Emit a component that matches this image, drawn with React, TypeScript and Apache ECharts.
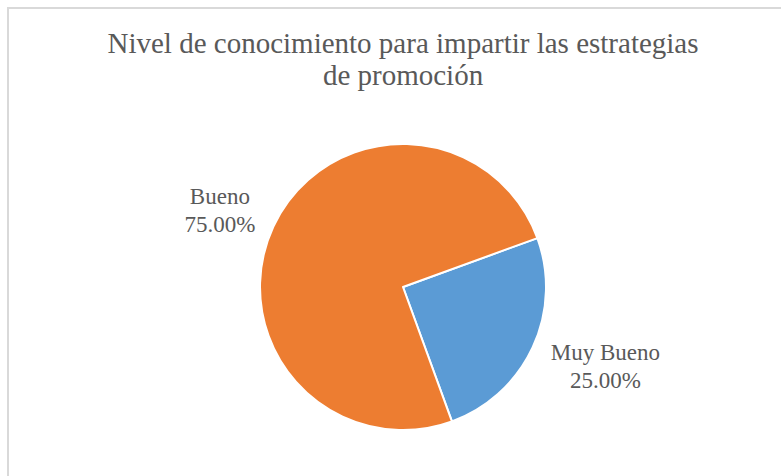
import React, { useEffect, useRef } from 'react';
import * as echarts from 'echarts';

// ---- data ----
const titleText = 'Nivel de conocimiento para impartir las estrategias\nde promoción';
const categories = ['Muy Bueno', 'Bueno'];
const values = [25, 75];

// ---- styling ----
const sliceColors = ['#5B9BD5', '#ED7D31'];
const labelLineLen = [45, 37];
const labelLineLen2 = [27, 15];
const FONT = 'Liberation Serif';
const TEXT_COLOR = '#595959';

export default function App() {
  const ref = useRef<HTMLDivElement | null>(null);

  useEffect(() => {
    if (!ref.current) return;
    const chart = echarts.init(ref.current, undefined, { renderer: 'svg' });
    const data = categories.map((name, i) => ({
      name,
      value: values[i],
      itemStyle: { color: sliceColors[i] },
      labelLine: { show: false, length: labelLineLen[i], length2: labelLineLen2[i] },
    }));
    chart.setOption({
      animation: false,
      backgroundColor: '#ffffff',
      graphic: [
        {
          type: 'rect',
          shape: { x: 8, y: 8, width: 800, height: 500 },
          style: { fill: 'none', stroke: '#d9d9d9', lineWidth: 2 },
          silent: true,
        },
        {
          type: 'text',
          x: 403,
          y: 27,
          silent: true,
          style: {
            text: titleText,
            align: 'center',
            verticalAlign: 'top',
            fontFamily: FONT,
            fontSize: 29,
            fontWeight: 'normal',
            lineHeight: 32,
            fill: TEXT_COLOR,
          },
        },
      ],
      series: [
        {
          type: 'pie',
          center: [403, 287],
          radius: 143,
          startAngle: 20,
          clockwise: true,
          avoidLabelOverlap: false,
          itemStyle: { borderColor: '#ffffff', borderWidth: 2 },
          label: {
            show: true,
            position: 'outside',
            fontFamily: FONT,
            fontSize: 23,
            lineHeight: 28,
            color: TEXT_COLOR,
            distanceToLabelLine: 5,
            formatter: (p: any) => `${p.name}\n${Number(p.percent).toFixed(2)}%`,
          },
          labelLayout: { align: 'center' },
          labelLine: { show: false },
          emphasis: { disabled: true },
          data,
        },
      ],
    });
    return () => chart.dispose();
  }, []);

  return (
    <div
      ref={ref}
      style={{ position: 'absolute', left: 0, top: 0, width: 781, height: 476 }}
    />
  );
}
